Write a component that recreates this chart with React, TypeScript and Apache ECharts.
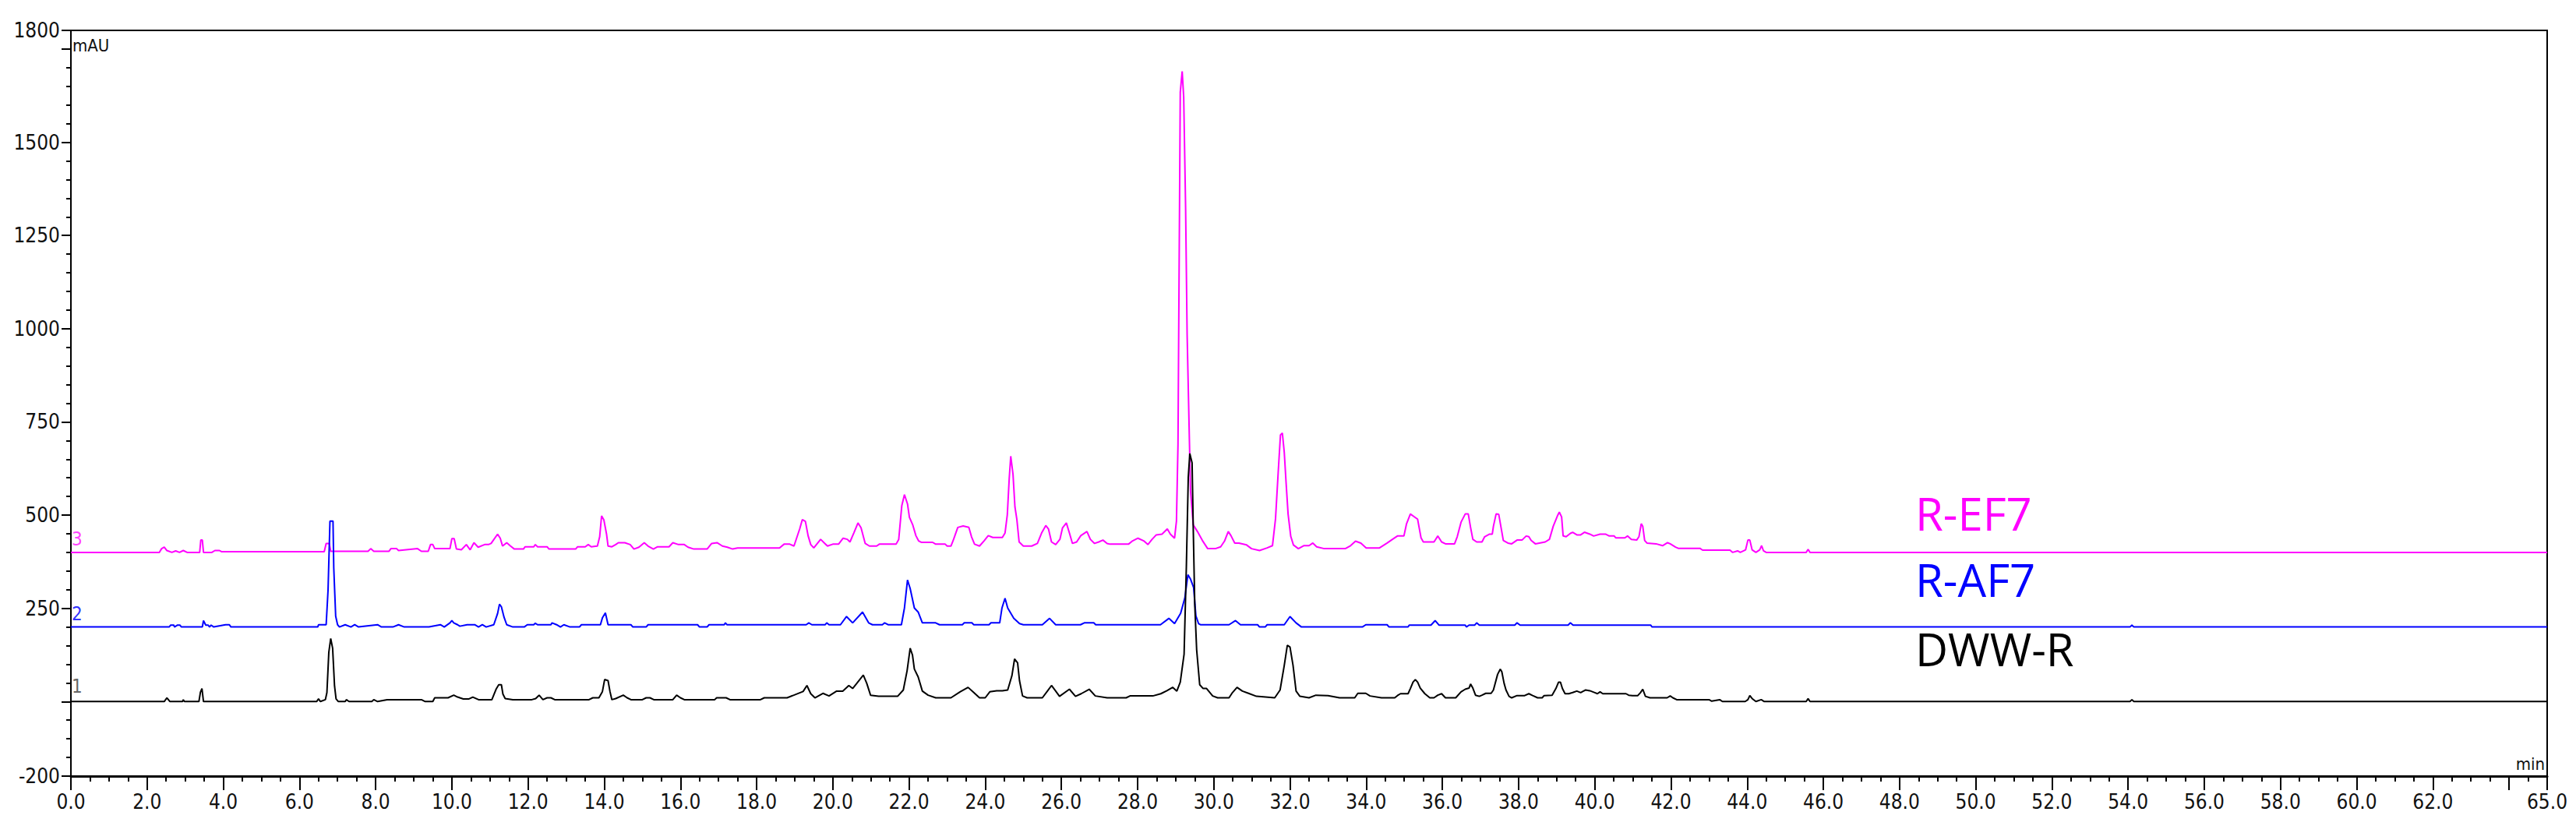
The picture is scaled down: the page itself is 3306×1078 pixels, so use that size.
import React, { useEffect, useRef } from "react";
import * as echarts from "echarts";

// Retention time (min) vs absorbance (mAU); traces are drawn with their stacking offsets (0, 200, 400)
const dwwR: [number, number][] = [
  [0,0],[2.45,0],[2.52,10],[2.6,0],[2.93,0],[2.95,5],[2.98,0],[3.36,0],[3.4,25],[3.44,35],[3.48,0],[6.45,0],[6.5,7],[6.55,0],[6.68,5],[6.72,24],[6.77,132],[6.82,169],[6.87,143],[6.92,42],[6.96,7],[7.02,0],[7.2,0],[7.23,5],[7.3,0],[7.9,0],[7.95,5],[8.05,0],[8.3,5],[9.2,5],[9.3,0],[9.5,0],[9.55,10],[9.9,10],[10.05,17],[10.15,12],[10.3,7],[10.45,7],[10.55,12],[10.7,5],[11.05,5],[11.16,33],[11.23,45],[11.3,45],[11.34,20],[11.4,8],[11.6,5],[12.1,5],[12.2,8],[12.29,17],[12.39,5],[12.5,10],[12.6,10],[12.7,5],[13.6,5],[13.7,10],[13.86,10],[13.95,26],[14.01,59],[14.1,56],[14.15,27],[14.2,5],[14.3,8],[14.5,17],[14.6,10],[14.7,5],[15.0,5],[15.1,10],[15.2,10],[15.3,5],[15.8,5],[15.9,17],[16.0,10],[16.1,5],[16.9,5],[16.95,10],[17.2,10],[17.3,5],[18.1,5],[18.2,10],[18.8,10],[19.22,27],[19.32,43],[19.42,21],[19.53,10],[19.74,22],[19.9,15],[20.1,28],[20.26,28],[20.42,43],[20.52,35],[20.63,49],[20.8,71],[20.89,49],[20.99,17],[21.2,14],[21.7,14],[21.85,31],[21.95,83],[22.03,143],[22.09,125],[22.14,87],[22.24,66],[22.35,28],[22.5,17],[22.7,10],[23.1,10],[23.34,26],[23.55,38],[23.7,24],[23.85,10],[24.0,10],[24.12,26],[24.3,29],[24.45,29],[24.59,31],[24.7,69],[24.77,114],[24.85,104],[24.9,56],[24.98,15],[25.1,10],[25.5,10],[25.64,29],[25.74,43],[25.85,28],[25.95,14],[26.21,33],[26.37,14],[26.52,21],[26.73,33],[26.89,15],[27.2,10],[27.7,10],[27.8,15],[28.4,15],[28.61,21],[28.77,29],[28.92,38],[29.03,28],[29.12,52],[29.22,127],[29.28,363],[29.33,601],[29.37,665],[29.43,640],[29.46,468],[29.5,261],[29.55,139],[29.63,45],[29.72,35],[29.81,35],[29.97,15],[30.1,10],[30.4,10],[30.49,24],[30.61,38],[30.75,28],[30.91,22],[31.12,14],[31.6,10],[31.74,31],[31.85,97],[31.93,151],[32.0,146],[32.08,97],[32.16,28],[32.26,14],[32.5,10],[32.68,17],[33.0,16],[33.3,10],[33.7,10],[33.78,22],[33.99,22],[34.1,15],[34.4,10],[34.75,10],[34.82,16],[34.9,21],[35.1,21],[35.16,35],[35.23,52],[35.29,59],[35.35,52],[35.42,36],[35.54,21],[35.67,10],[35.78,10],[35.88,17],[35.98,21],[36.08,10],[36.35,10],[36.49,26],[36.6,33],[36.7,36],[36.74,47],[36.8,36],[36.87,17],[36.97,14],[37.04,17],[37.14,22],[37.28,22],[37.34,31],[37.45,73],[37.52,87],[37.56,80],[37.62,49],[37.67,31],[37.75,14],[37.82,10],[37.96,16],[38.16,16],[38.27,21],[38.37,16],[38.5,10],[38.62,10],[38.67,16],[38.88,17],[38.98,35],[39.05,52],[39.1,52],[39.15,35],[39.22,21],[39.32,21],[39.42,24],[39.53,28],[39.63,24],[39.76,31],[39.87,29],[40.0,24],[40.07,21],[40.14,26],[40.21,21],[40.82,21],[40.89,17],[40.99,16],[41.13,16],[41.2,24],[41.26,33],[41.33,14],[41.45,10],[41.9,10],[41.98,15],[42.05,10],[42.15,5],[43.0,5],[43.07,1],[43.28,5],[43.35,0],[43.95,0],[44.02,5],[44.07,16],[44.13,8],[44.23,0],[44.37,5],[44.45,0],[45.55,0],[45.6,8],[45.65,0],[54.05,0],[54.1,5],[54.15,0],[65,0]
];

const rAF7: [number, number][] = [
  [0,200],[2.58,200],[2.62,205],[2.7,205],[2.72,200],[2.8,205],[2.86,205],[2.9,200],[3.45,200],[3.48,217],[3.54,205],[3.6,205],[3.64,200],[3.68,205],[3.75,200],[4.06,206],[4.16,206],[4.2,200],[6.48,200],[6.5,206],[6.7,206],[6.75,299],[6.8,484],[6.88,484],[6.9,358],[6.95,229],[7.0,206],[7.05,200],[7.2,206],[7.35,200],[7.45,206],[7.55,200],[8.05,206],[8.15,200],[8.45,200],[8.6,206],[8.75,200],[9.4,200],[9.7,206],[9.8,200],[9.95,211],[10.0,217],[10.05,211],[10.15,206],[10.21,202],[10.4,206],[10.6,206],[10.7,200],[10.8,206],[10.9,200],[11.1,206],[11.2,236],[11.25,261],[11.3,254],[11.37,226],[11.44,206],[11.6,200],[11.9,200],[11.98,206],[12.15,206],[12.19,210],[12.25,206],[12.6,206],[12.63,211],[12.75,206],[12.85,200],[12.94,206],[13.1,200],[13.35,200],[13.4,206],[13.9,206],[13.95,224],[14.03,238],[14.1,206],[14.7,206],[14.75,200],[15.1,200],[15.15,206],[16.45,206],[16.5,200],[16.7,200],[16.75,206],[17.15,206],[17.18,211],[17.22,206],[18.6,206],[19.3,206],[19.37,211],[19.45,206],[19.8,206],[19.84,211],[19.9,206],[20.2,206],[20.36,228],[20.52,211],[20.78,240],[20.94,211],[21.04,206],[21.3,206],[21.36,211],[21.45,206],[21.8,206],[21.88,251],[21.96,326],[22.03,303],[22.14,251],[22.24,240],[22.35,211],[22.7,211],[22.8,206],[23.4,206],[23.45,211],[23.65,211],[23.7,206],[24.1,206],[24.15,211],[24.38,211],[24.44,251],[24.52,277],[24.59,251],[24.75,223],[24.9,209],[25.0,206],[25.5,206],[25.69,223],[25.85,206],[26.5,206],[26.6,211],[26.85,211],[26.9,206],[28.6,206],[28.82,223],[28.97,209],[29.13,237],[29.24,278],[29.32,340],[29.39,328],[29.47,306],[29.53,230],[29.6,209],[29.65,206],[30.4,206],[30.57,217],[30.7,206],[31.15,206],[31.2,200],[31.35,200],[31.4,206],[31.85,206],[32.0,228],[32.16,211],[32.3,200],[33.9,200],[33.99,206],[34.55,206],[34.6,200],[35.1,200],[35.13,205],[35.7,205],[35.81,217],[35.91,205],[36.6,205],[36.63,200],[36.7,205],[36.85,205],[36.9,211],[36.97,205],[37.9,205],[37.96,211],[38.04,205],[39.3,205],[39.36,211],[39.43,205],[41.47,205],[41.5,200],[54.05,200],[54.1,205],[54.15,200],[65,200]
];

const rEF7: [number, number][] = [
  [0,400],[2.32,400],[2.38,410],[2.45,414],[2.52,405],[2.65,400],[2.75,404],[2.85,400],[2.95,405],[3.05,400],[3.38,400],[3.41,433],[3.45,433],[3.48,400],[3.7,400],[3.78,405],[3.9,405],[3.95,402],[6.65,402],[6.7,424],[6.78,424],[6.82,403],[7.8,403],[7.87,410],[7.95,403],[8.35,403],[8.4,410],[8.55,410],[8.6,405],[9.1,410],[9.2,403],[9.38,403],[9.44,421],[9.5,421],[9.55,410],[9.95,410],[10.0,437],[10.06,437],[10.12,409],[10.25,407],[10.38,421],[10.48,407],[10.58,426],[10.69,414],[10.86,421],[10.96,421],[11.03,424],[11.2,449],[11.27,438],[11.33,417],[11.44,426],[11.54,417],[11.64,409],[11.88,409],[11.92,415],[12.15,415],[12.19,421],[12.25,415],[12.5,415],[12.55,409],[13.25,409],[13.3,415],[13.5,415],[13.58,421],[13.66,415],[13.82,417],[13.88,442],[13.93,498],[13.99,487],[14.06,449],[14.1,417],[14.2,415],[14.3,421],[14.37,426],[14.54,426],[14.68,421],[14.78,409],[14.91,414],[15.05,426],[15.15,417],[15.29,409],[15.4,415],[15.7,415],[15.8,426],[15.95,421],[16.1,421],[16.2,414],[16.35,409],[16.7,409],[16.82,424],[16.96,426],[17.1,417],[17.23,414],[17.37,409],[17.5,412],[18.6,412],[18.72,422],[18.87,422],[18.98,417],[19.13,463],[19.2,488],[19.28,483],[19.35,445],[19.42,421],[19.5,412],[19.57,421],[19.68,435],[19.79,424],[19.86,417],[20.0,422],[20.15,422],[20.27,438],[20.38,435],[20.45,428],[20.55,452],[20.66,479],[20.74,466],[20.85,424],[20.96,417],[21.15,417],[21.22,422],[21.66,422],[21.73,435],[21.81,525],[21.88,555],[21.96,530],[22.01,494],[22.1,473],[22.18,445],[22.25,431],[22.32,427],[22.62,427],[22.7,422],[22.95,422],[23.0,417],[23.1,417],[23.17,435],[23.28,467],[23.42,471],[23.57,467],[23.64,442],[23.72,422],[23.85,417],[23.97,431],[24.08,445],[24.2,440],[24.45,440],[24.52,452],[24.58,501],[24.63,598],[24.67,658],[24.73,609],[24.78,522],[24.83,489],[24.89,428],[25.0,417],[25.22,417],[25.37,424],[25.48,452],[25.59,472],[25.66,463],[25.74,428],[25.85,421],[25.96,435],[26.03,466],[26.13,479],[26.21,452],[26.29,424],[26.4,428],[26.51,445],[26.67,456],[26.76,435],[26.87,424],[26.98,428],[27.09,433],[27.2,424],[27.28,422],[27.76,422],[27.87,431],[28.01,438],[28.16,431],[28.27,421],[28.38,435],[28.49,447],[28.64,449],[28.78,463],[28.86,449],[28.97,438],[29.02,484],[29.06,689],[29.12,1634],[29.17,1690],[29.21,1621],[29.26,1325],[29.3,984],[29.36,698],[29.39,564],[29.46,474],[29.57,456],[29.7,432],[29.84,410],[30.04,410],[30.18,415],[30.28,430],[30.38,456],[30.45,445],[30.55,425],[30.66,425],[30.86,420],[30.99,410],[31.2,405],[31.4,412],[31.54,418],[31.62,490],[31.69,614],[31.75,715],[31.8,720],[31.85,668],[31.9,583],[31.95,503],[32.02,443],[32.09,420],[32.22,410],[32.36,418],[32.5,418],[32.6,425],[32.7,415],[32.9,410],[33.45,410],[33.59,418],[33.72,430],[33.86,425],[34.0,412],[34.35,412],[34.55,425],[34.69,435],[34.82,444],[34.99,444],[35.06,477],[35.16,503],[35.27,495],[35.35,489],[35.44,439],[35.5,428],[35.78,428],[35.88,444],[35.98,428],[36.08,423],[36.32,423],[36.39,442],[36.49,481],[36.6,503],[36.68,503],[36.74,467],[36.8,435],[36.9,428],[37.04,428],[37.11,442],[37.24,449],[37.31,449],[37.34,470],[37.41,503],[37.48,502],[37.54,467],[37.6,432],[37.72,425],[37.82,423],[37.96,433],[38.09,433],[38.2,444],[38.27,442],[38.33,432],[38.44,423],[38.7,428],[38.81,435],[38.91,470],[39.02,498],[39.07,508],[39.13,495],[39.17,444],[39.25,442],[39.36,451],[39.42,454],[39.53,447],[39.63,447],[39.73,454],[39.87,449],[39.97,444],[40.14,449],[40.28,449],[40.38,444],[40.51,444],[40.55,439],[40.79,439],[40.86,444],[40.96,435],[41.1,433],[41.16,442],[41.22,477],[41.26,470],[41.31,432],[41.37,425],[41.61,423],[41.78,418],[41.91,426],[41.98,423],[42.12,414],[42.19,411],[42.76,411],[42.83,406],[43.55,406],[43.62,400],[43.75,404],[43.82,400],[43.96,407],[44.02,433],[44.07,433],[44.13,407],[44.23,400],[44.33,407],[44.38,418],[44.43,404],[44.5,400],[45.55,400],[45.6,408],[45.65,400],[65,400]
];

const seriesNames = ["R-EF7", "R-AF7", "DWW-R"];
const seriesColors = ["#ff00ff", "#0000ff", "#000000"];
const traceNumbers = ["3", "2", "1"];

const xMajorTicks: number[] = [0,2,4,6,8,10,12,14,16,18,20,22,24,26,28,30,32,34,36,38,40,42,44,46,48,50,52,54,56,58,60,62,64,65];
const xTickLabels: number[] = [0,2,4,6,8,10,12,14,16,18,20,22,24,26,28,30,32,34,36,38,40,42,44,46,48,50,52,54,56,58,60,62,65];
const yMajorTicks: number[] = [-200,0,250,500,750,1000,1250,1500,1750,1800];
const yTickLabels: number[] = [-200,250,500,750,1000,1250,1500,1800];

const NARROW = "'Liberation Sans Narrow', 'Arial Narrow', 'DejaVu Sans Condensed', 'Liberation Sans', Arial, sans-serif";

export default function App() {
  const ref = useRef<HTMLDivElement>(null);
  useEffect(() => {
    if (!ref.current) return;
    const chart = echarts.init(ref.current, undefined, { renderer: "svg" });
    const L = 91, T = 39, R = 3269, B = 996;
    const axisLabelStyle = { color: "#111", fontFamily: NARROW, fontSize: 26 };
    chart.setOption({
      animation: false,
      backgroundColor: "#ffffff",
      grid: {
        left: L, top: T, right: 3306 - R, bottom: 1078 - B,
        show: true, borderColor: "#000", borderWidth: 2,
        containLabel: false, outerBoundsMode: "none",
      },
      xAxis: [
        {
          type: "value", min: 0, max: 65, interval: 0.5, position: "bottom",
          axisLine: { show: true, onZero: false, lineStyle: { color: "#000", width: 3 } },
          axisTick: { show: true, length: 7, lineStyle: { color: "#000", width: 2 } },
          axisLabel: { show: false },
          splitLine: { show: false },
        },
        {
          type: "value", min: 0, max: 65, position: "bottom",
          axisLine: { show: false, onZero: false },
          axisTick: { show: true, length: 18, customValues: xMajorTicks, lineStyle: { color: "#000", width: 2 } },
          axisLabel: {
            show: true, customValues: xTickLabels, margin: 20, ...axisLabelStyle,
            formatter: (v: number) => v.toFixed(1),
          },
          splitLine: { show: false },
        },
      ],
      yAxis: [
        {
          type: "value", min: -200, max: 1800, interval: 50, position: "left",
          axisLine: { show: true, onZero: false, lineStyle: { color: "#000", width: 2 } },
          axisTick: { show: true, length: 6, lineStyle: { color: "#000", width: 2 } },
          axisLabel: { show: false },
          splitLine: { show: false },
        },
        {
          type: "value", min: -200, max: 1800, position: "left",
          axisLine: { show: false, onZero: false },
          axisTick: { show: true, length: 12, customValues: yMajorTicks, lineStyle: { color: "#000", width: 2 } },
          axisLabel: {
            show: true, customValues: yTickLabels, margin: 14, ...axisLabelStyle,
            formatter: (v: number) => String(v),
          },
          splitLine: { show: false },
        },
      ],
      series: [rEF7, rAF7, dwwR].map((d, i) => ({
        name: seriesNames[i],
        type: "line",
        xAxisIndex: 0,
        yAxisIndex: 0,
        data: d,
        showSymbol: false,
        symbol: "none",
        lineStyle: { color: seriesColors[i], width: 2 },
        itemStyle: { color: seriesColors[i] },
        z: 2 + i,
        silent: true,
      })),
      graphic: [
        { type: "text", x: 93, y: 58, style: { text: "mAU", fill: "#111", font: `22px ${NARROW}`, textVerticalAlign: "middle" } },
        { type: "text", x: 3266, y: 980, style: { text: "min", fill: "#111", font: `22px ${NARROW}`, textAlign: "right", textVerticalAlign: "middle" } },
        { type: "text", x: 92, y: 692, style: { text: traceNumbers[0], fill: "#ff44ff", font: `24px ${NARROW}`, textVerticalAlign: "middle" } },
        { type: "text", x: 92, y: 788, style: { text: traceNumbers[1], fill: "#3333ff", font: `24px ${NARROW}`, textVerticalAlign: "middle" } },
        { type: "text", x: 92, y: 881, style: { text: traceNumbers[2], fill: "#666", font: `24px ${NARROW}`, textVerticalAlign: "middle" } },
        { type: "text", x: 2458, y: 658, style: { text: seriesNames[0], fill: seriesColors[0], font: `58px 'Open Sans', 'Noto Sans', sans-serif`, textVerticalAlign: "middle" } },
        { type: "text", x: 2458, y: 743, style: { text: seriesNames[1], fill: seriesColors[1], font: `58px 'Open Sans', 'Noto Sans', sans-serif`, textVerticalAlign: "middle" } },
        { type: "text", x: 2458, y: 832, style: { text: seriesNames[2], fill: seriesColors[2], font: `58px 'Open Sans', 'Noto Sans', sans-serif`, textVerticalAlign: "middle" } },
      ],
    });
    return () => chart.dispose();
  }, []);
  return <div ref={ref} style={{ position: "absolute", left: 0, top: 0, width: 3306, height: 1078, background: "#fff" }} />;
}
